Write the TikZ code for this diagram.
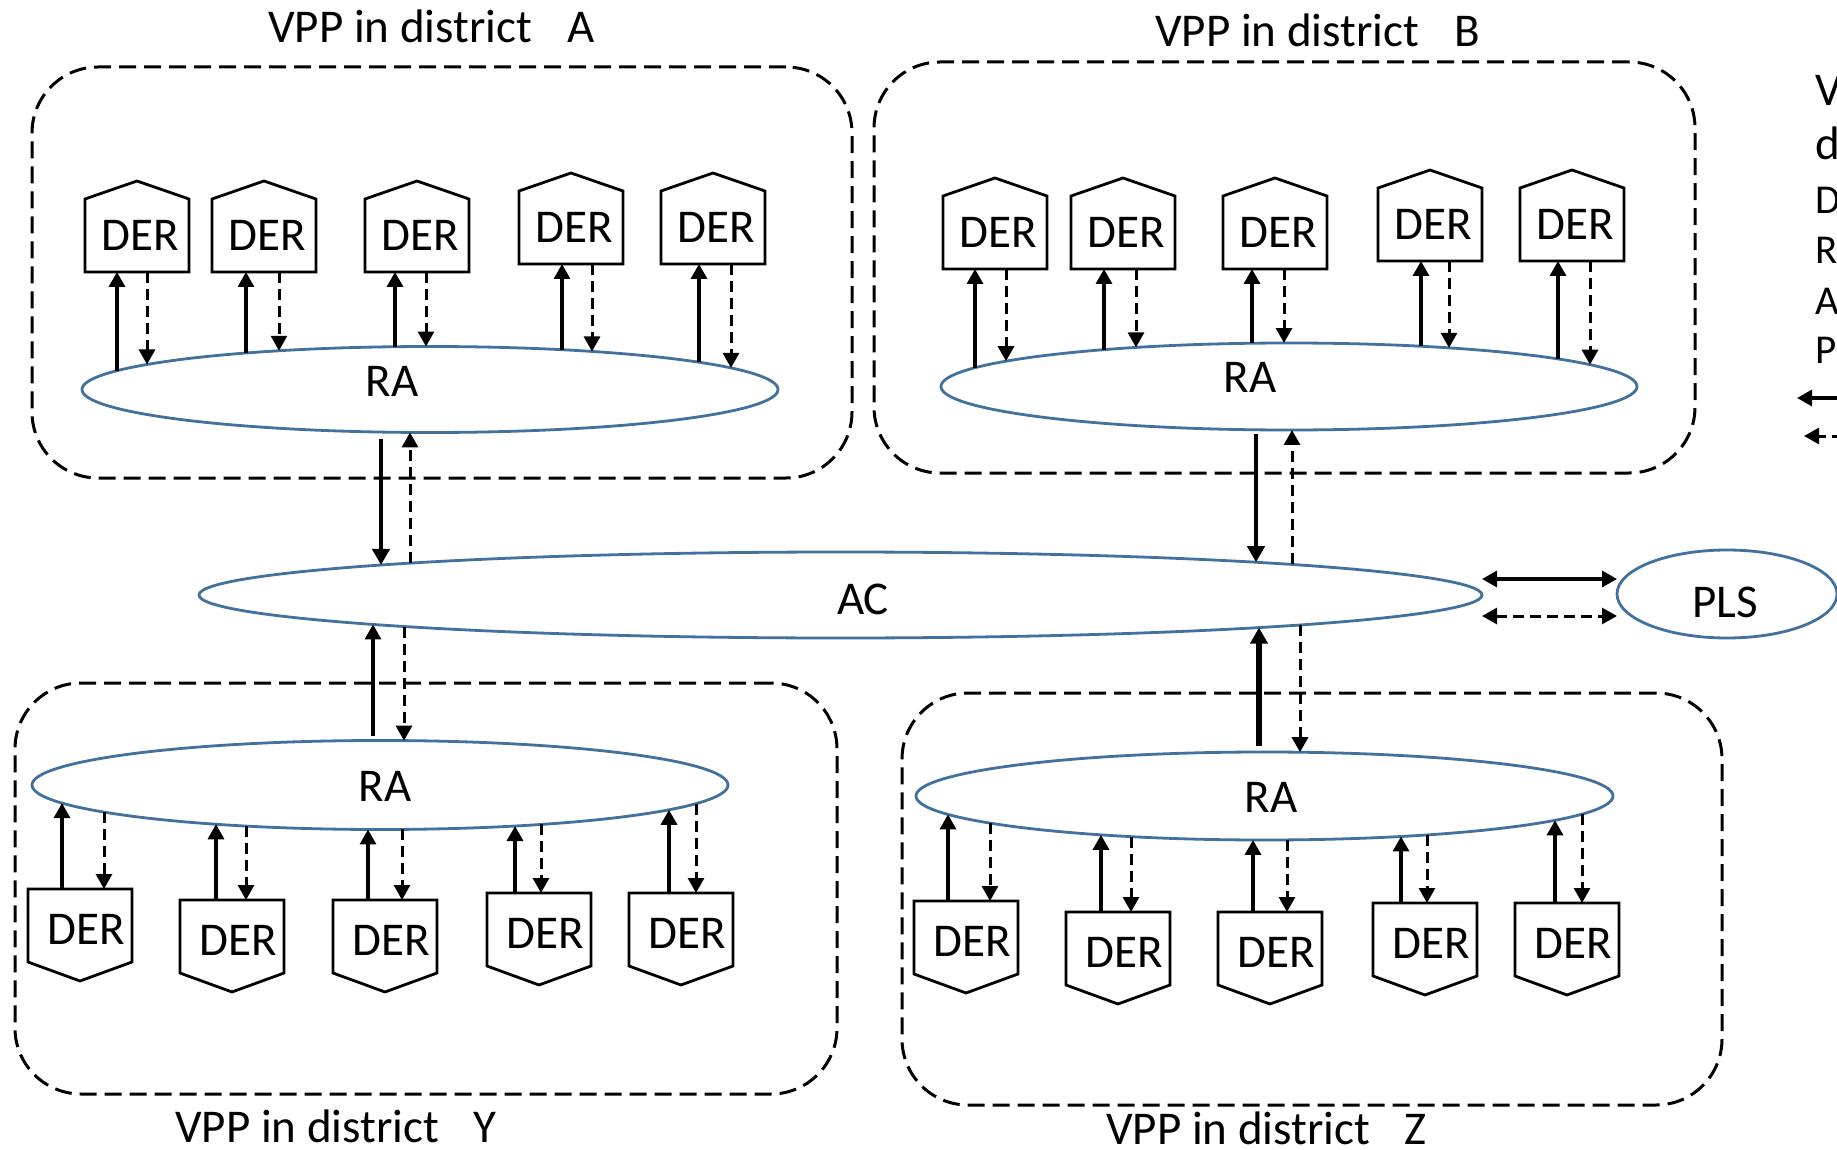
\documentclass[tikz,border=0pt]{standalone}
\usepackage{fontspec}
\setmainfont{Carlito}
\usetikzlibrary{shapes.geometric,arrows.meta,calc}
\definecolor{ellblue}{HTML}{41719C}
% point on an ellipse node: #1 name, #2 ellipse node, #3 absolute x,
% #4 centre x, #5 semi-axis rx, #6 signed ry (negative = upper half)
\newcommand\ept[6]{\coordinate (#1) at ($(#2.center)+({#3-#4},{#6*sqrt(1-((#3-#4)/#5)*((#3-#4)/#5))})$);}
% DER unit with the point on top: #1 name, #2 left x, #3 bottom y
\newcommand\derup[3]{%
  \node[derbody, anchor=south west] (#1) at (#2,#3) {};
  \draw[derline] (#1.south west) -- (#1.north west) -- ([yshift=18pt]#1.north)
    -- (#1.north east) -- (#1.south east) -- cycle;
  \node[dertext] (#1t) at ([xshift=3pt]#1.center) {DER};}
% DER unit with the point below: #1 name, #2 left x, #3 top y
\newcommand\derdown[3]{%
  \node[derbody, anchor=north west] (#1) at (#2,#3) {};
  \draw[derline] (#1.north west) -- (#1.south west) -- ([yshift=-19pt]#1.south)
    -- (#1.south east) -- (#1.north east) -- cycle;
  \node[dertext] (#1t) at ([xshift=6pt,yshift=-4pt]#1.center) {DER};}

\begin{document}
\begin{tikzpicture}[x=1pt,y=-1pt,
  vppbox/.style={draw, line width=3pt, dash pattern=on 17pt off 8pt,
    rounded corners=66pt, inner sep=0, outer sep=0},
  ellnode/.style={ellipse, draw=ellblue, line width=2.8pt, inner sep=0, outer sep=0},
  derbody/.style={rectangle, inner sep=0, outer sep=0, minimum width=104pt, minimum height=73pt},
  derline/.style={line width=2.8pt, line join=miter},
  dertext/.style={inner sep=0, font=\fontsize{47}{56}\selectfont},
  lbl/.style={inner sep=0, font=\fontsize{47}{56}\selectfont},
  vpptitle/.style={inner sep=0, anchor=base west, font=\fontsize{47}{56}\selectfont},
  keytext/.style={inner sep=0, anchor=base west},
  sarr/.style={line width=3.3pt, -{Triangle[width=16pt,length=15pt]}},
  darr/.style={line width=3pt, dash pattern=on 11pt off 6pt, -{Triangle[width=16pt,length=15pt]}},
  barr/.style={line width=4.5pt, -{Triangle[width=17pt,length=16pt]}},
  biarr/.style={line width=3.3pt, {Triangle[width=16pt,length=15pt]}-{Triangle[width=16pt,length=15pt]}},
  bidarr/.style={line width=3pt, dash pattern=on 11pt off 6pt,
    {Triangle[width=16pt,length=15pt]}-{Triangle[width=16pt,length=15pt]}},
]
\useasboundingbox (0,0) rectangle (1837,1150);
\fill[white] (0,0) rectangle (1837,1150);
\clip (0,0) rectangle (1837,1150);

% district boxes
\node[vppbox, minimum width=820pt, minimum height=411pt] (boxA) at (442,272.5) {};
\node[vppbox, minimum width=821pt, minimum height=411pt] (boxB) at (1284.5,267.5) {};
\node[vppbox, minimum width=822pt, minimum height=411pt] (boxY) at (426,888.5) {};
\node[vppbox, minimum width=820pt, minimum height=412pt] (boxZ) at (1312,899) {};

% titles
\node[vpptitle] (tA) at (268,43) {VPP in district\hspace{36pt}A};
\node[vpptitle] (tB) at (1155,47) {VPP in district\hspace{36pt}B};
\node[vpptitle] (tY) at (175,1142) {VPP in district\hspace{35pt}Y};
\node[vpptitle] (tZ) at (1106,1144) {VPP in district\hspace{35pt}Z};

% aggregators
\node[ellnode, minimum width=696pt, minimum height=86pt] (raA) at (430,389.5) {};
\node[ellnode, minimum width=696pt, minimum height=87pt] (raB) at (1289,386.5) {};
\node[ellnode, minimum width=1283pt, minimum height=86pt] (ac) at (840.5,595) {};
\node[ellnode, minimum width=696pt, minimum height=89pt] (raY) at (380,785) {};
\node[ellnode, minimum width=697pt, minimum height=88pt] (raZ) at (1264.5,796) {};
\node[ellnode, minimum width=220pt, minimum height=88pt] (pls) at (1727,594) {};

\node[lbl] (raAt) at (392,381) {RA};
\node[lbl] (raBt) at (1250,377) {RA};
\node[lbl] (act) at (863,599) {AC};
\node[lbl] (raYt) at (385,786) {RA};
\node[lbl] (raZt) at (1271,797) {RA};
\node[lbl] (plst) at (1725,602) {PLS};

% DER units
\derup{dA1}{85}{272}  \derup{dA2}{212}{272}  \derup{dA3}{365}{272}
\derup{dA4}{519}{264} \derup{dA5}{661}{264}
\derup{dB1}{943}{269}  \derup{dB2}{1071}{269} \derup{dB3}{1223}{269}
\derup{dB4}{1378}{261} \derup{dB5}{1520}{261}
\derdown{dY1}{28}{889}  \derdown{dY2}{180}{900} \derdown{dY3}{333}{900}
\derdown{dY4}{487}{893} \derdown{dY5}{629}{893}
\derdown{dZ1}{914}{901}  \derdown{dZ2}{1066}{912} \derdown{dZ3}{1218}{912}
\derdown{dZ4}{1373}{903} \derdown{dZ5}{1515}{903}

% DER <-> RA links
\foreach \n/\xs/\xd in {1/117/147, 2/246/279, 3/395/426, 4/562/592, 5/699/731}{
  \ept{eAs\n}{raA}{\xs}{430}{348}{-43}
  \ept{eAd\n}{raA}{\xd}{430}{348}{-43}
  \draw[sarr] (eAs\n) -- (dA\n.south -| eAs\n);
  \draw[darr] (dA\n.south -| eAd\n) -- (eAd\n);
}
\foreach \n/\xs/\xd in {1/975/1006, 2/1104/1136, 3/1252/1284, 4/1421/1449, 5/1558/1590}{
  \ept{eBs\n}{raB}{\xs}{1289}{348}{-43.5}
  \ept{eBd\n}{raB}{\xd}{1289}{348}{-43.5}
  \draw[sarr] (eBs\n) -- (dB\n.south -| eBs\n);
  \draw[darr] (dB\n.south -| eBd\n) -- (eBd\n);
}
\foreach \n/\xs/\xd in {1/62/104, 2/216/246, 3/368/402, 4/515/541, 5/669/696}{
  \ept{eYs\n}{raY}{\xs}{380}{348}{44.5}
  \ept{eYd\n}{raY}{\xd}{380}{348}{44.5}
  \draw[sarr] (dY\n.north -| eYs\n) -- (eYs\n);
  \draw[darr] (eYd\n) -- (dY\n.north -| eYd\n);
}
\foreach \n/\xs/\xd in {1/948/990, 2/1101/1131, 3/1253/1287, 4/1401/1427, 5/1555/1582}{
  \ept{eZs\n}{raZ}{\xs}{1264.5}{348.5}{44}
  \ept{eZd\n}{raZ}{\xd}{1264.5}{348.5}{44}
  \draw[sarr] (dZ\n.north -| eZs\n) -- (eZs\n);
  \draw[darr] (eZd\n) -- (dZ\n.north -| eZd\n);
}

% RA <-> AC links
\ept{kAs1}{raA}{381}{430}{348}{43}      \ept{kAs2}{ac}{381}{840.5}{641.5}{-43}
\ept{kAd1}{ac}{410}{840.5}{641.5}{-43}  \ept{kAd2}{raA}{410}{430}{348}{43}
\draw[barr, shorten <=7pt] (kAs1) -- (kAs2);
\draw[darr] (kAd1) -- (kAd2);

\ept{kBs1}{raB}{1256}{1289}{348}{43.5}    \ept{kBs2}{ac}{1256}{840.5}{641.5}{-43}
\ept{kBd1}{ac}{1292}{840.5}{641.5}{-43}   \ept{kBd2}{raB}{1292}{1289}{348}{43.5}
\draw[barr, shorten <=4pt] (kBs1) -- (kBs2);
\draw[darr] (kBd1) -- (kBd2);

\ept{kYs1}{raY}{373}{380}{348}{-44.5}   \ept{kYs2}{ac}{373}{840.5}{641.5}{43}
\ept{kYd1}{ac}{404}{840.5}{641.5}{43}   \ept{kYd2}{raY}{404}{380}{348}{-44.5}
\draw[sarr, shorten <=5pt] (kYs1) -- (kYs2);
\draw[darr] (kYd1) -- (kYd2);

\ept{kZs1}{raZ}{1259}{1264.5}{348.5}{-44}  \ept{kZs2}{ac}{1259}{840.5}{641.5}{43}
\ept{kZd1}{ac}{1300}{840.5}{641.5}{43}     \ept{kZd2}{raZ}{1300}{1264.5}{348.5}{-44}
\draw[barr, line width=5.5pt, shorten <=6pt] (kZs1) -- (kZs2);
\draw[darr] (kZd1) -- (kZd2);

% AC <-> PLS links
\coordinate (acS) at ($(ac.east)+(0,-16)$);
\coordinate (acD) at ($(ac.east)+(0,21)$);
\draw[biarr] (acS) -- (pls.west |- acS);
\draw[bidarr] (acD) -- (pls.west |- acD);

% key, at the right-hand edge
\node[keytext, font=\fontsize{47}{56}\selectfont] (kV) at (1815,106) {V};
\node[keytext, font=\fontsize{47}{56}\selectfont] (kd) at (1815,160) {d};
\node[keytext, font=\fontsize{41}{48}\selectfont] (kD) at (1815,214) {D};
\node[keytext, font=\fontsize{41}{48}\selectfont] (kR) at (1815,264) {R};
\node[keytext, font=\fontsize{41}{48}\selectfont] (kA) at (1815,315) {A};
\node[keytext, font=\fontsize{41}{48}\selectfont] (kP) at (1815,363) {P};
\coordinate (kS0) at (1860,398);  \coordinate (kS1) at (1797,398);
\coordinate (kD0) at (1843,436);  \coordinate (kD1) at (1804,436);
\draw[sarr] (kS0) -- (kS1);
\draw[darr] (kD0) -- (kD1);
\end{tikzpicture}
\end{document}
